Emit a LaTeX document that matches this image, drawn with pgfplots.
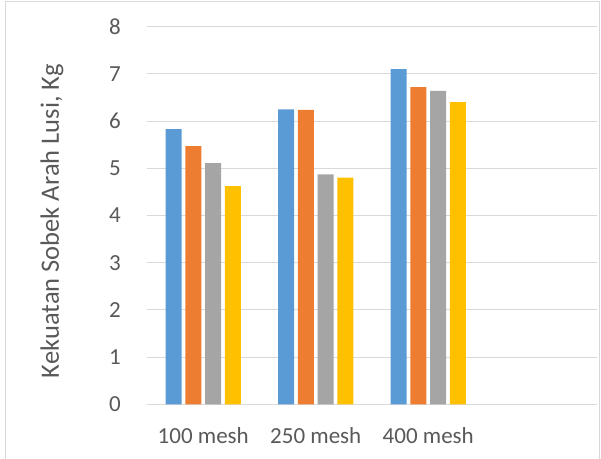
\documentclass[border=0pt]{standalone}
\usepackage{fontspec}
\setmainfont{Carlito}
\usepackage{pgfplots}
\pgfplotsset{compat=1.18}
\definecolor{cblue}{HTML}{5B9BD5}
\definecolor{corange}{HTML}{ED7D31}
\definecolor{cgray}{HTML}{A5A5A5}
\definecolor{cyellow}{HTML}{FFC000}
\definecolor{gridc}{HTML}{D9D9D9}
\definecolor{textc}{HTML}{595959}
\begin{document}
\begin{tikzpicture}
\begin{axis}[
  name=ax, scale only axis, width=450pt, height=377.6pt,
  ymin=0, ymax=8, ytick={0,...,8},
  xmin=-0.5, xmax=3.5,
  xtick={0,1,2}, xticklabels={100 mesh,250 mesh,400 mesh},
  ybar=3.8pt, bar width=16pt,
  axis line style={draw=none},
  ymajorgrids, grid style={gridc, line width=1pt},
  major tick length=0pt, tick style={draw=none},
  ticklabel style={font=\fontsize{23}{27}\selectfont, text=textc},
  /pgf/number format/assume math mode=true,
  yticklabel style={anchor=east, inner sep=0pt, xshift=-26pt},
  xticklabel style={anchor=north, inner sep=0pt, yshift=-23pt},
  ylabel={Kekuatan Sobek Arah Lusi, Kg},
  ylabel style={font=\fontsize{26.5}{30}\selectfont, text=textc,
    at={(axis description cs:-0.2111,0.4854)}, anchor=center, rotate=0},
  every axis plot/.append style={draw=none},
]
\addplot[fill=cblue] coordinates {(0,5.83) (1,6.25) (2,7.10)};
\addplot[fill=corange] coordinates {(0,5.47) (1,6.24) (2,6.72)};
\addplot[fill=cgray] coordinates {(0,5.11) (1,4.87) (2,6.64)};
\addplot[fill=cyellow] coordinates {(0,4.62) (1,4.80) (2,6.40)};
\end{axis}
\draw[gridc, line width=1pt] ([xshift=-141.8pt,yshift=-60pt]ax.south west) rectangle ([xshift=2pt,yshift=24.7pt]ax.north east);
\pgfresetboundingbox
\path ([xshift=-147pt,yshift=-54.7pt]ax.south west) rectangle ([xshift=4pt,yshift=26.7pt]ax.north east);
\end{tikzpicture}
\end{document}
